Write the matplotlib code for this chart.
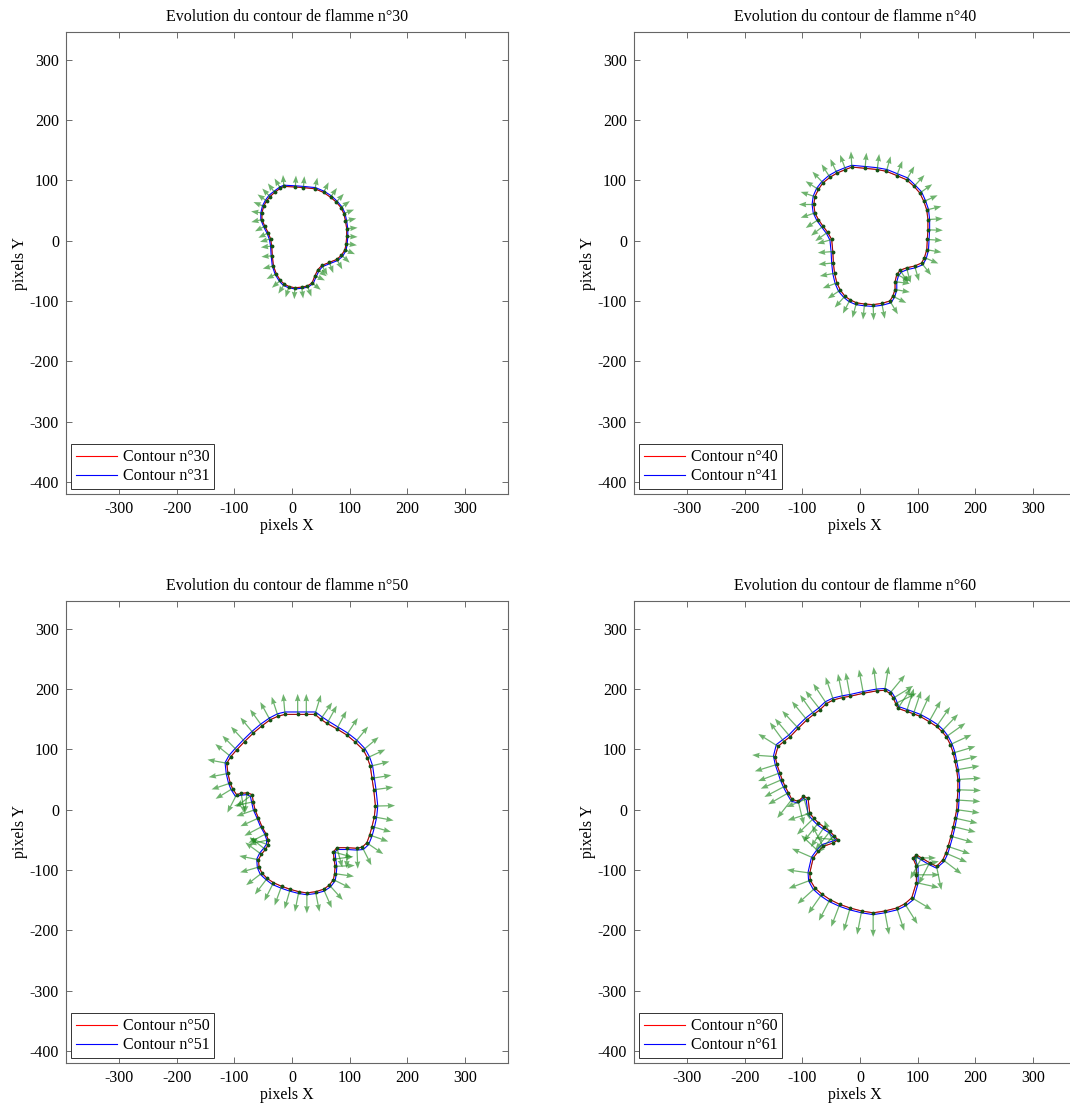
import matplotlib
matplotlib.use("Agg")
import matplotlib.pyplot as plt
import numpy as np

# contour points (pixels), clockwise from the top-left
contour_30 = [(-20, 87), (-14, 90), (6, 89), (20, 88), (40, 86), (55, 80), (67, 72), (77, 64),
              (85, 55), (90, 45), (93, 33), (95, 20), (95, 7), (94, -5), (92, -15), (86, -24),
              (78, -31), (65, -36), (52, -41), (45, -48), (40, -58), (35, -70), (27, -75),
              (17, -77), (5, -78), (-5, -76), (-13, -72), (-20, -66), (-27, -55), (-32, -42),
              (-34, -25), (-35, -9), (-37, 3), (-41, 13), (-47, 24), (-52, 35), (-52, 46),
              (-49, 57), (-44, 66), (-38, 73), (-30, 80)]
contour_31 = [(-21, 89), (-14, 92), (6, 91), (20, 90), (41, 88), (56, 82), (69, 74), (79, 65),
              (87, 56), (92, 46), (95, 33), (97, 20), (97, 7), (96, -5), (94, -16), (88, -26),
              (79, -33), (66, -38), (53, -43), (47, -50), (42, -60), (37, -71), (28, -77),
              (17, -79), (5, -80), (-6, -78), (-15, -74), (-22, -67), (-29, -56), (-34, -42),
              (-36, -25), (-37, -9), (-39, 2), (-43, 12), (-49, 23), (-54, 35), (-54, 46),
              (-51, 58), (-46, 67), (-40, 75), (-31, 82)]

contour_40 = [(-40, 112), (-25, 118), (-14, 122), (9, 120), (30, 118), (46, 115), (64, 108),
              (81, 101), (94, 90), (104, 79), (111, 65), (116, 51), (118, 35), (118, 18),
              (117, 2), (116, -15), (112, -28), (107, -37), (95, -42), (81, -45), (70, -49),
              (64, -56), (61, -68), (61, -81), (57, -92), (52, -100), (38, -104), (23, -106),
              (8, -105), (-6, -103), (-17, -98), (-26, -92), (-34, -82), (-40, -70), (-44, -54),
              (-46, -37), (-47, -18), (-49, 2), (-56, 14), (-64, 24), (-72, 35), (-78, 46),
              (-80, 60), (-78, 73), (-72, 85), (-64, 96), (-52, 105)]
contour_41 = [(-41, 115), (-26, 121), (-14, 125), (9, 123), (30, 121), (47, 118), (65, 111),
              (83, 104), (96, 92), (107, 81), (114, 66), (119, 52), (121, 35), (121, 18),
              (120, 2), (119, -16), (115, -30), (109, -40), (96, -45), (82, -48), (72, -52),
              (67, -58), (64, -68), (64, -82), (60, -94), (54, -103), (39, -107), (23, -109),
              (8, -108), (-7, -106), (-19, -101), (-28, -94), (-37, -84), (-43, -71), (-47, -55),
              (-49, -37), (-50, -18), (-52, 1), (-58, 12), (-66, 22), (-75, 34), (-81, 46),
              (-83, 60), (-81, 74), (-75, 87), (-66, 98), (-54, 108)]

contour_50 = [(-38, 149), (-24, 155), (-12, 158), (10, 158), (25, 158), (40, 158), (50, 150),
              (61, 143), (78, 134), (95, 124), (110, 112), (124, 99), (131, 86), (136, 72),
              (139, 52), (142, 33), (145, 6), (143, -12), (139, -28), (135, -42), (130, -55),
              (122, -62), (113, -64), (96, -63), (78, -63), (72, -70), (73, -82), (75, -94),
              (74, -106), (72, -116), (65, -125), (55, -132), (41, -136), (26, -138), (12, -136),
              (-3, -132), (-18, -127), (-32, -121), (-43, -114), (-52, -105), (-57, -95),
              (-58, -83), (-53, -74), (-46, -66), (-41, -58), (-41, -50), (-45, -40), (-52, -28),
              (-58, -14), (-64, 0), (-67, 13), (-69, 25), (-78, 28), (-88, 27), (-96, 25),
              (-103, 35), (-107, 44), (-111, 60), (-113, 77), (-106, 88), (-96, 99), (-82, 113),
              (-67, 127), (-52, 139)]
contour_51 = [(-39, 152), (-25, 159), (-12, 162), (10, 162), (25, 162), (41, 162), (52, 154),
              (63, 147), (80, 137), (97, 127), (113, 115), (127, 101), (135, 87), (140, 73),
              (143, 53), (146, 33), (149, 6), (147, -13), (143, -30), (139, -44), (133, -58),
              (124, -66), (113, -67), (96, -66), (79, -66), (75, -70), (76, -82), (78, -94),
              (77, -107), (75, -118), (67, -128), (56, -135), (41, -139), (26, -141), (12, -139),
              (-4, -135), (-19, -130), (-34, -124), (-45, -116), (-55, -107), (-60, -96),
              (-61, -82), (-56, -72), (-49, -64), (-44, -57), (-44, -49), (-48, -39), (-55, -27),
              (-61, -13), (-67, 0), (-70, 13), (-72, 22), (-78, 25), (-88, 24), (-98, 22),
              (-106, 34), (-110, 44), (-114, 60), (-116, 78), (-109, 90), (-98, 102), (-84, 116),
              (-69, 130), (-54, 142)]

contour_60 = [(-69, 166), (-58, 176), (-46, 182), (-30, 186), (-17, 188), (6, 193), (29, 197),
              (43, 198), (52, 193), (58, 185), (62, 176), (66, 168), (81, 163), (93, 159),
              (104, 155), (120, 146), (133, 138), (142, 130), (150, 121), (157, 108), (162, 94),
              (165, 80), (168, 66), (170, 50), (170, 33), (169, 16), (168, 0), (165, -14),
              (162, -28), (158, -44), (153, -61), (149, -72), (144, -83), (133, -94), (121, -88),
              (107, -80), (98, -75), (92, -80), (98, -94), (98, -108), (98, -121), (90, -146),
              (78, -156), (64, -163), (43, -168), (23, -171), (3, -168), (-17, -163), (-35, -157),
              (-52, -149), (-66, -140), (-78, -130), (-86, -117), (-87, -105), (-81, -80),
              (-72, -69), (-64, -61), (-46, -55), (-38, -50), (-45, -43), (-52, -36), (-62, -29),
              (-72, -22), (-80, -14), (-87, -6), (-90, 19), (-98, 22), (-107, 14), (-118, 17),
              (-124, 28), (-130, 39), (-135, 50), (-139, 61), (-144, 75), (-147, 88), (-142, 105),
              (-132, 113), (-121, 121), (-107, 135), (-92, 149), (-80, 158)]
contour_61 = [(-71, 169), (-60, 179), (-47, 185), (-30, 189), (-17, 191), (6, 196), (29, 200),
              (44, 201), (55, 195), (61, 186), (65, 177), (67, 171), (82, 166), (94, 162),
              (105, 158), (122, 149), (135, 141), (145, 132), (153, 122), (160, 109), (165, 95),
              (168, 80), (171, 66), (173, 50), (173, 33), (172, 16), (171, 0), (168, -14),
              (165, -29), (161, -45), (156, -62), (152, -74), (146, -86), (133, -97), (120, -91),
              (106, -83), (98, -78), (95, -81), (101, -94), (101, -108), (101, -122), (93, -149),
              (80, -159), (65, -166), (43, -171), (23, -174), (3, -171), (-18, -166), (-36, -160),
              (-54, -152), (-68, -143), (-81, -132), (-89, -118), (-90, -104), (-84, -79),
              (-75, -67), (-66, -58), (-47, -52), (-41, -50), (-47, -45), (-54, -38), (-64, -32),
              (-74, -25), (-82, -17), (-90, -8), (-93, 16), (-98, 19), (-107, 11), (-119, 14),
              (-127, 27), (-133, 38), (-138, 49), (-142, 61), (-147, 75), (-150, 89), (-145, 108),
              (-134, 116), (-123, 124), (-109, 138), (-94, 152), (-82, 161)]

flames = [30, 40, 50, 60]
contours_old = [contour_30, contour_40, contour_50, contour_60]
contours_new = [contour_31, contour_41, contour_51, contour_61]
arrow_len = [19, 26, 34, 40]


def outward_normals(pts):
    # points are clockwise, so the outward side is on the left of the tangent
    t = np.roll(pts, -1, axis=0) - np.roll(pts, 1, axis=0)
    t = t / np.linalg.norm(t, axis=1)[:, None]
    return np.column_stack([-t[:, 1], t[:, 0]])


plt.rcParams["font.family"] = ["Liberation Serif", "DejaVu Serif"]
plt.rcParams["font.size"] = 11.5
plt.rcParams["axes.unicode_minus"] = False

fig = plt.figure(figsize=(10.7, 11.08), dpi=100)
positions = [
    [66 / 1070, 1 - 494 / 1108, 442 / 1070, 462 / 1108],
    [634 / 1070, 1 - 494 / 1108, 442 / 1070, 462 / 1108],
    [66 / 1070, 1 - 1063 / 1108, 442 / 1070, 462 / 1108],
    [634 / 1070, 1 - 1063 / 1108, 442 / 1070, 462 / 1108],
]

for pos, n, old, new, alen in zip(positions, flames, contours_old, contours_new, arrow_len):
    ax = fig.add_axes(pos)
    p_old = np.asarray(old, float)
    p_new = np.asarray(new, float)
    c_old = np.vstack([p_old, p_old[:1]])
    c_new = np.vstack([p_new, p_new[:1]])

    ax.plot(c_old[:, 0], c_old[:, 1], color="red", lw=0.8, label=f"Contour n°{n}")
    ax.plot(c_new[:, 0], c_new[:, 1], color="blue", lw=0.8, label=f"Contour n°{n + 1}")

    nrm = outward_normals(p_old) * alen
    ax.quiver(p_old[:, 0], p_old[:, 1], nrm[:, 0], nrm[:, 1],
              angles="xy", scale_units="xy", scale=1, color="#1f8a1f", alpha=0.65,
              width=0.0028, headwidth=4.5, headlength=6, headaxislength=5.5, zorder=3)
    ax.plot(c_old[:, 0], c_old[:, 1], color="#202020", lw=0.6, alpha=0.55, zorder=4)
    ax.plot(p_old[:, 0], p_old[:, 1], ".", color="#145214", ms=3.5, zorder=4)

    ax.set_xlim(-392, 375)
    ax.set_ylim(-420, 346)
    ax.set_xticks(np.arange(-300, 301, 100))
    ax.set_yticks(np.arange(-400, 301, 100))
    ax.tick_params(direction="in", top=True, right=True, length=4, width=0.6,
                   color="#555555", labelsize=11.5, pad=5)
    for sp in ax.spines.values():
        sp.set_color("#666666")
        sp.set_linewidth(0.8)
    ax.set_title(f"Evolution du contour de flamme n°{n}", fontsize=11.5, pad=8)
    ax.set_xlabel("pixels X", fontsize=11.5, labelpad=1)
    ax.set_ylabel("pixels Y", fontsize=11.5, labelpad=1)

    leg = ax.legend(loc="lower left", bbox_to_anchor=(0.0, 0.0), borderaxespad=0.3,
                    fancybox=False, edgecolor="#333333", framealpha=1,
                    handlelength=2.6, handletextpad=0.35, borderpad=0.3,
                    labelspacing=0.2, fontsize=11.5)
    leg.get_frame().set_linewidth(0.7)

fig.savefig("out.png", dpi=100)
